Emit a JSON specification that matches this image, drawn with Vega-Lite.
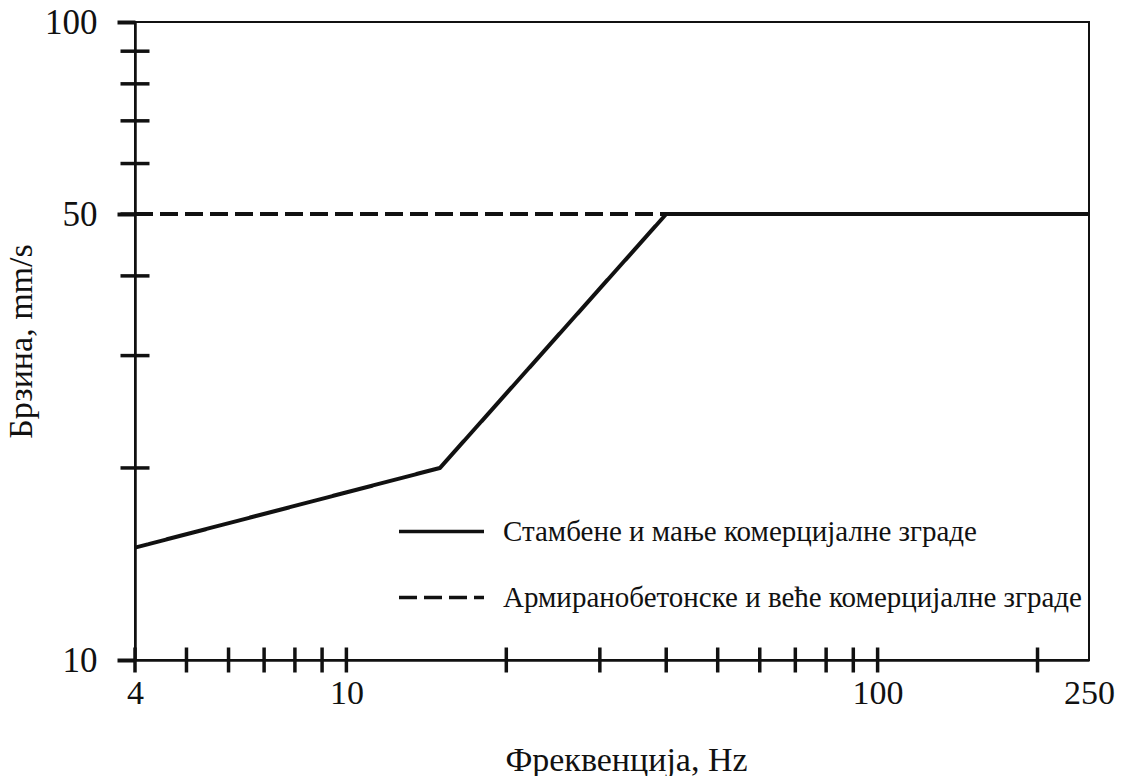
{
  "$schema": "https://vega.github.io/schema/vega-lite/v6.json",
  "width": 954,
  "height": 638,
  "autosize": "none",
  "padding": {"left": 135, "top": 22, "right": 32, "bottom": 116},
  "background": "white",
  "config": {
    "view": {"stroke": "#111", "strokeWidth": 2},
    "font": "Liberation Serif"
  },
  "datasets": {
    "lines": [
      {"series": "Армиранобетонске и веће комерцијалне зграде", "freq": 4, "vel": 50},
      {"series": "Армиранобетонске и веће комерцијалне зграде", "freq": 250, "vel": 50},
      {"series": "Стамбене и мање комерцијалне зграде", "freq": 4, "vel": 15},
      {"series": "Стамбене и мање комерцијалне зграде", "freq": 15, "vel": 20},
      {"series": "Стамбене и мање комерцијалне зграде", "freq": 40, "vel": 50},
      {"series": "Стамбене и мање комерцијалне зграде", "freq": 250, "vel": 50}
    ],
    "xticks": [
      {"freq": 4}, {"freq": 5}, {"freq": 6}, {"freq": 7}, {"freq": 8}, {"freq": 9}, {"freq": 10},
      {"freq": 20}, {"freq": 30}, {"freq": 40}, {"freq": 50}, {"freq": 60}, {"freq": 70},
      {"freq": 80}, {"freq": 90}, {"freq": 100}, {"freq": 200}
    ],
    "yticks": [
      {"vel": 20}, {"vel": 30}, {"vel": 40}, {"vel": 50}, {"vel": 60}, {"vel": 70}, {"vel": 80}, {"vel": 90}
    ]
  },
  "layer": [
    {
      "data": {"name": "lines"},
      "mark": {"type": "line", "strokeWidth": 4, "color": "#111", "clip": false},
      "encoding": {
        "x": {
          "field": "freq", "type": "quantitative",
          "scale": {"type": "log", "domain": [4, 250], "nice": false},
          "axis": {
            "values": [4, 10, 100, 250], "ticks": false, "grid": false,
            "domainColor": "#111", "domainWidth": 2.5,
            "labelFont": "Liberation Serif", "labelFontSize": 34, "labelColor": "#111",
            "labelPadding": 16, "labelFlush": false, "labelOverlap": false,
            "title": "Фреквенција, Hz", "titleFont": "Liberation Serif", "titleFontSize": 34,
            "titleFontWeight": "normal", "titleColor": "#111",
            "titleBaseline": "alphabetic", "titleY": 110, "titleX": 491
          }
        },
        "y": {
          "field": "vel", "type": "quantitative",
          "scale": {"type": "log", "domain": [10, 100], "nice": false},
          "axis": {
            "values": [10, 50, 100], "ticks": true, "tickSize": 18, "tickWidth": 4, "tickColor": "#111",
            "grid": false, "domainColor": "#111", "domainWidth": 2.5,
            "labelFont": "Liberation Serif", "labelFontSize": 35, "labelColor": "#111",
            "labelPadding": 20, "labelFlush": false, "labelOverlap": false,
            "title": "Брзина, mm/s", "titleFont": "Liberation Serif", "titleFontSize": 34,
            "titleFontWeight": "normal", "titleColor": "#111", "titlePadding": 6
          }
        },
        "strokeDash": {
          "field": "series", "type": "nominal",
          "scale": {
            "domain": ["Стамбене и мање комерцијалне зграде", "Армиранобетонске и веће комерцијалне зграде"],
            "range": [[1, 0], [18, 7]]
          },
          "legend": {
            "title": null, "orient": "none", "legendX": 262, "legendY": 465,
            "symbolType": "stroke", "symbolSize": 7225, "symbolStrokeWidth": 3.5,
            "symbolStrokeColor": "#111", "labelFont": "Liberation Serif", "labelFontSize": 29,
            "labelColor": "#111", "labelOffset": 17, "labelLimit": 800, "rowPadding": 6
          }
        }
      }
    },
    {
      "data": {"name": "xticks"},
      "mark": {"type": "tick", "orient": "vertical", "size": 25, "thickness": 3.5, "color": "#111", "opacity": 1, "clip": false},
      "encoding": {
        "x": {"field": "freq", "type": "quantitative"},
        "y": {"datum": 10}
      }
    },
    {
      "data": {"name": "yticks"},
      "mark": {"type": "tick", "orient": "horizontal", "size": 29, "thickness": 3.5, "color": "#111", "opacity": 1, "clip": false},
      "encoding": {
        "y": {"field": "vel", "type": "quantitative"},
        "x": {"datum": 4}
      }
    },
    {
      "mark": {"type": "rule", "strokeWidth": 4, "color": "#111"},
      "encoding": {"y": {"datum": 100}}
    }
  ]
}
